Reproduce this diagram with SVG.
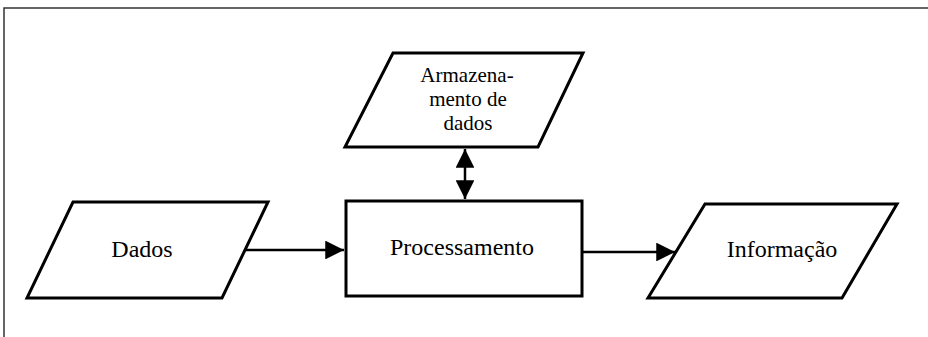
<svg xmlns="http://www.w3.org/2000/svg" width="928" height="337" viewBox="0 0 928 337">
  <defs>
    <style>
      .shape { fill: #ffffff; stroke: #000000; stroke-width: 3; stroke-linejoin: miter; }
      .label { font-family: "Liberation Serif", "Times New Roman", serif; font-size: 24px; fill: #000000; text-anchor: middle; }
      .small { font-size: 21px; }
      .conn { stroke: #000000; stroke-width: 2.5; fill: none; }
      .frame { stroke: #333333; stroke-width: 1.5; fill: none; }
    </style>
    <marker id="arrow" viewBox="0 0 10 10" refX="10" refY="5" markerWidth="7.5" markerHeight="7.5" markerUnits="strokeWidth" orient="auto-start-reverse">
      <path d="M0,0 L10,5 L0,10 Z" fill="#000000"/>
    </marker>
  </defs>
  <rect width="928" height="337" fill="#ffffff"/>
  <g id="frame">
    <path class="frame" d="M4,337 L4,8 L928,8"/>
  </g>
  <g id="connectors">
    <line class="conn" x1="465" y1="149" x2="465" y2="199" marker-start="url(#arrow)" marker-end="url(#arrow)"/>
    <line class="conn" x1="246" y1="250" x2="344" y2="250" marker-end="url(#arrow)"/>
    <line class="conn" x1="583" y1="252" x2="675" y2="252" marker-end="url(#arrow)"/>
  </g>
  <g id="armazenamento">
    <polygon class="shape" points="393,53 583,53 538,147 345,147"/>
    <text class="label small" x="467" y="82">Armazena-</text>
    <text class="label small" x="468" y="106">mento de</text>
    <text class="label small" x="468" y="130">dados</text>
  </g>
  <g id="dados">
    <polygon class="shape" points="73,202 268,202 222,298 27,298"/>
    <text class="label" x="142" y="257">Dados</text>
  </g>
  <g id="processamento">
    <rect class="shape" x="346" y="201" width="236" height="95"/>
    <text class="label" x="462" y="255">Processamento</text>
  </g>
  <g id="informacao">
    <polygon class="shape" points="705,204 897,204 842,298 648,298"/>
    <text class="label" x="782" y="257">Informação</text>
  </g>
</svg>
